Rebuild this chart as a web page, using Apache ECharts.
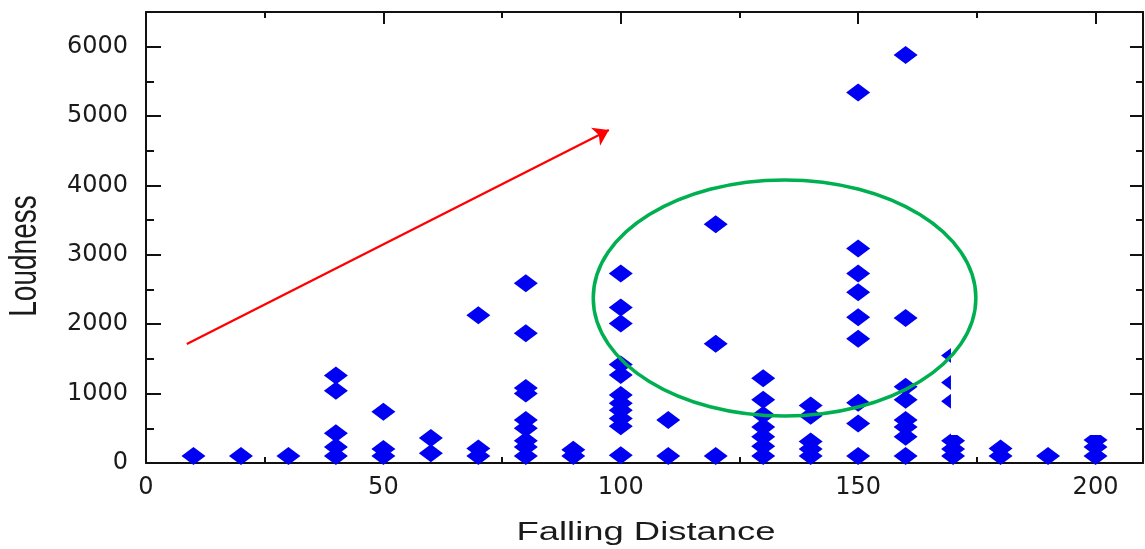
<!DOCTYPE html>
<html>
<head>
<meta charset="utf-8">
<title>Loudness vs Falling Distance</title>
<script src="https://cdn.jsdelivr.net/npm/echarts@6/dist/echarts.min.js"></script>
<style>
html, body { margin: 0; padding: 0; background: #fff; }
#chart { width: 1145px; height: 549px; }
</style>
</head>
<body>
<div id="chart"></div>
<script>
// falling distance (x) and the loudness readings taken at each distance
const distances = [10, 20, 30, 40, 50, 60, 70, 80, 90, 100, 110, 120, 130, 140, 150, 160, 170, 180, 190, 200];
const loudness = [
	[100],
	[100],
	[100],
	[100, 230, 430, 1040, 1260],
	[100, 200, 740],
	[140, 360],
	[100, 210, 2130],
	[100, 230, 320, 500, 620, 1000, 1080, 1870, 2590],
	[100, 190],
	[110, 530, 640, 760, 860, 980, 1270, 1420, 2010, 2240, 2730],
	[100, 620],
	[100, 1720, 3440],
	[100, 240, 380, 520, 690, 910, 1220],
	[100, 200, 310, 680, 830],
	[100, 570, 870, 1790, 2100, 2460, 2730, 3090, 5340],
	[100, 380, 520, 620, 910, 1100, 2090, 5880],
	[100, 200, 320, 890, 1160, 1550],
	[100, 210],
	[100],
	[100, 230, 330],
];

// axis ranges
const xRange = [0, 210];
const yRange = [0, 6500];

// hand drawn annotations, in data units
const arrowFrom = [8.6, 1715];
const arrowTo = [97.5, 4800];
const ringCenter = [134.5, 2378];
const ringRadius = [40.3, 1701];
// blank patch in the source picture (x0, y0, x1, y1)
const blankPatch = [169.55, 404, 207, 6300];

const points = [];
distances.forEach((d, i) => {
	loudness[i].forEach((v) => points.push([d, v]));
});

const labelStyle = {
	fontFamily: 'DejaVu Sans',
	fontSize: 24,
	color: '#1a1a1a',
	formatter: (v) => String(v),
};

// one axis per side for major ticks, one more for the short minor ticks
function makeAxis(position, range, interval, tickLen, withLine, withLabel, margin) {
	return {
		type: 'value',
		position: position,
		min: range[0],
		max: range[1],
		interval: interval,
		splitLine: { show: false },
		axisLine: { show: withLine, onZero: false, lineStyle: { color: '#111', width: 2 } },
		axisTick: { show: true, inside: true, length: tickLen, lineStyle: { color: '#111', width: 2 } },
		axisLabel: Object.assign({ show: withLabel, margin: margin, showMaxLabel: false }, labelStyle),
	};
}

const chart = echarts.init(document.getElementById('chart'));

chart.setOption({
	animation: false,
	backgroundColor: '#fff',
	grid: { left: 146, right: 2, top: 12, bottom: 86 },
	xAxis: [
		makeAxis('bottom', xRange, 50, 12, true, true, 13),
		makeAxis('bottom', xRange, 25, 6, false, false, 0),
		makeAxis('top', xRange, 50, 12, true, false, 0),
		makeAxis('top', xRange, 25, 6, false, false, 0),
	],
	yAxis: [
		makeAxis('left', yRange, 1000, 15, true, true, 18),
		makeAxis('left', yRange, 500, 8, false, false, 0),
		makeAxis('right', yRange, 1000, 13, true, false, 0),
		makeAxis('right', yRange, 500, 7, false, false, 0),
	],
	series: [
		{
			type: 'scatter',
			xAxisIndex: 0,
			yAxisIndex: 0,
			z: 5,
			symbol: 'diamond',
			symbolSize: [24, 18],
			itemStyle: { color: '#0000f2', opacity: 1 },
			data: points,
			markLine: {
				silent: true,
				symbol: ['none', 'arrow'],
				symbolSize: 15,
				label: { show: false },
				lineStyle: { color: '#ff0000', width: 2.3, type: 'solid' },
				data: [[{ coord: arrowFrom }, { coord: arrowTo }]],
			},
		},
	],
});

// annotations that need pixel positions from the axes
const c = chart.convertToPixel({ xAxisIndex: 0, yAxisIndex: 0 }, ringCenter);
const r = chart.convertToPixel({ xAxisIndex: 0, yAxisIndex: 0 }, [ringCenter[0] + ringRadius[0], ringCenter[1] + ringRadius[1]]);
const p0 = chart.convertToPixel({ xAxisIndex: 0, yAxisIndex: 0 }, [blankPatch[0], blankPatch[1]]);
const p1 = chart.convertToPixel({ xAxisIndex: 0, yAxisIndex: 0 }, [blankPatch[2], blankPatch[3]]);

chart.setOption({
	graphic: [
		{
			type: 'rect',
			z: 50,
			silent: true,
			shape: { x: p0[0], y: p1[1], width: p1[0] - p0[0], height: p0[1] - p1[1] },
			style: { fill: '#fff' },
		},
		{
			type: 'ellipse',
			z: 60,
			silent: true,
			shape: { cx: c[0], cy: c[1], rx: r[0] - c[0], ry: c[1] - r[1] },
			style: { fill: 'none', stroke: '#00b050', lineWidth: 3.5 },
		},
		{
			// source picture is stretched sideways, so the titles are too
			type: 'text',
			x: 646,
			y: 533,
			scaleX: 1.4,
			style: {
				text: 'Falling Distance',
				font: '26px "Liberation Sans"',
				fill: '#1a1a1a',
				align: 'center',
				verticalAlign: 'middle',
			},
		},
		{
			type: 'text',
			x: 25,
			y: 256,
			rotation: Math.PI / 2,
			scaleY: 1.4,
			style: {
				text: 'Loudness',
				font: '28px "Liberation Sans"',
				fill: '#1a1a1a',
				align: 'center',
				verticalAlign: 'middle',
			},
		},
	],
});
</script>
</body>
</html>
